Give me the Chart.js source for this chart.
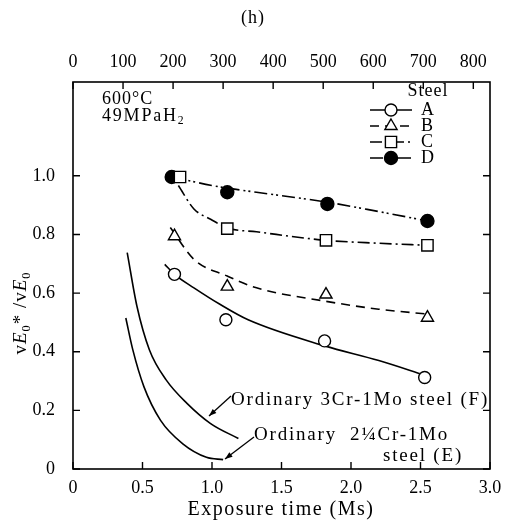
<!DOCTYPE html>
<html>
<head>
<meta charset="utf-8">
<script src="https://cdn.jsdelivr.net/npm/chart.js@4.4.1/dist/chart.umd.min.js"></script>
<style>
  html, body { margin: 0; padding: 0; background: #fff; }
</style>
</head>
<body>
<canvas id="chart" width="505" height="525"></canvas>
<script>
// tick labels
const msTicks = [0, 0.5, 1.0, 1.5, 2.0, 2.5, 3.0];
const hourTicks = [0, 100, 200, 300, 400, 500, 600, 700, 800];
const yTicks = [0, 0.2, 0.4, 0.6, 0.8, 1.0];

// measured points, exposure time (Ms) vs vE0*/vE0
const steelNames = ['A', 'B', 'C', 'D'];
const timeA = [0.73, 1.10, 1.81, 2.53];
const ratioA = [0.664, 0.509, 0.437, 0.312];
const timeB = [0.73, 1.11, 1.82, 2.55];
const ratioB = [0.794, 0.622, 0.595, 0.516];
const timeC = [0.77, 1.11, 1.82, 2.55];
const ratioC = [0.996, 0.82, 0.78, 0.763];
const timeD = [0.71, 1.11, 1.83, 2.55];
const ratioD = [0.996, 0.944, 0.904, 0.846];

// trend curves
const curveAx = [0.66, 0.73, 0.87, 1.06, 1.26, 1.81, 2.2, 2.53];
const curveAy = [0.698, 0.664, 0.618, 0.561, 0.509, 0.42, 0.37, 0.32];
const curveBx = [0.70, 0.87, 1.11, 1.32, 1.82, 2.2, 2.56];
const curveBy = [0.824, 0.715, 0.658, 0.618, 0.572, 0.545, 0.528];
const curveCx = [0.758, 0.87, 0.99, 1.11, 1.32, 1.82, 2.2, 2.55];
const curveCy = [0.967, 0.887, 0.852, 0.822, 0.809, 0.78, 0.77, 0.763];
const curveDx = [0.71, 1.0, 1.11, 1.32, 1.83, 2.2, 2.55];
const curveDy = [0.996, 0.967, 0.958, 0.944, 0.91, 0.878, 0.846];
// ordinary 3Cr-1Mo steel (F)
const curveFx = [0.39, 0.46, 0.55, 0.67, 0.82, 0.99, 1.19];
const curveFy = [0.738, 0.555, 0.406, 0.304, 0.224, 0.155, 0.104];
// ordinary 2 1/4Cr-1Mo steel (E)
const curveEx = [0.38, 0.43, 0.51, 0.63, 0.79, 0.96, 1.08];
const curveEy = [0.515, 0.407, 0.281, 0.166, 0.086, 0.040, 0.032];

const toXY = (xs, ys) => xs.map((x, i) => ({ x: x, y: ys[i] }));

const DASH_B = [9, 6];
const DASH_C = [12, 4, 2, 4];
const DASH_D = [13, 4, 2, 3, 2, 4];

function markerSet(label, xs, ys, style, radius, fill) {
  return {
    label: label,
    data: toXY(xs, ys),
    showLine: false,
    pointStyle: style,
    pointRadius: radius,
    pointHoverRadius: radius,
    pointBackgroundColor: fill,
    pointBorderColor: '#000',
    pointBorderWidth: 1.4
  };
}

function curveSet(label, xs, ys, dash) {
  return {
    label: label,
    data: toXY(xs, ys),
    borderColor: '#000',
    borderWidth: 1.6,
    borderDash: dash,
    pointRadius: 0,
    cubicInterpolationMode: 'monotone',
    fill: false
  };
}

const SERIF = '"Liberation Serif", "DejaVu Serif", serif';

// draw text made of runs: [text, style]  style: n normal, i italic, s subscript
function drawRuns(ctx, runs, x, y, size, spacing) {
  let cx = x;
  runs.forEach(([t, s]) => {
    let fs = size, dy = 0, italic = '';
    if (s === 'i') italic = 'italic ';
    if (s === 's') { fs = size * 0.65; dy = size * 0.28; }
    ctx.font = italic + fs + 'px ' + SERIF;
    ctx.letterSpacing = spacing + 'px';
    ctx.fillText(t, cx, y + dy);
    cx += ctx.measureText(t).width;
  });
}

function runsWidth(ctx, runs, size, spacing) {
  let w = 0;
  runs.forEach(([t, s]) => {
    let fs = size, italic = '';
    if (s === 'i') italic = 'italic ';
    if (s === 's') fs = size * 0.65;
    ctx.font = italic + fs + 'px ' + SERIF;
    ctx.letterSpacing = spacing + 'px';
    w += ctx.measureText(t).width;
  });
  return w;
}

function drawMarker(ctx, style, x, y) {
  ctx.beginPath();
  if (style === 'circle') ctx.arc(x, y, 6, 0, Math.PI * 2);
  if (style === 'disc') ctx.arc(x, y, 6.5, 0, Math.PI * 2);
  if (style === 'triangle') {
    ctx.moveTo(x, y - 7);
    ctx.lineTo(x + 6.1, y + 3.5);
    ctx.lineTo(x - 6.1, y + 3.5);
    ctx.closePath();
  }
  if (style === 'rect') ctx.rect(x - 5.6, y - 5.6, 11.2, 11.2);
  ctx.fillStyle = style === 'disc' ? '#000' : '#fff';
  ctx.fill();
  ctx.stroke();
}

function arrow(ctx, x1, y1, x2, y2) {
  ctx.beginPath();
  ctx.moveTo(x1, y1);
  ctx.lineTo(x2, y2);
  ctx.stroke();
  const ang = Math.atan2(y2 - y1, x2 - x1);
  ctx.beginPath();
  ctx.moveTo(x2, y2);
  ctx.lineTo(x2 - 8 * Math.cos(ang - 0.35), y2 - 8 * Math.sin(ang - 0.35));
  ctx.lineTo(x2 - 8 * Math.cos(ang + 0.35), y2 - 8 * Math.sin(ang + 0.35));
  ctx.closePath();
  ctx.fill();
}

const overlay = {
  id: 'overlay',
  afterDraw(chart) {
    const { ctx, chartArea: a, scales } = chart;
    ctx.save();
    ctx.strokeStyle = '#000';
    ctx.fillStyle = '#000';

    // frame
    ctx.lineWidth = 1.6;
    ctx.strokeRect(a.left, a.top, a.right - a.left, a.bottom - a.top);

    // inward ticks
    ctx.lineWidth = 1.4;
    ctx.beginPath();
    msTicks.forEach(v => {
      const px = scales.x.getPixelForValue(v);
      ctx.moveTo(px, a.bottom); ctx.lineTo(px, a.bottom - 7);
    });
    hourTicks.forEach(v => {
      const px = scales.x2.getPixelForValue(v);
      ctx.moveTo(px, a.top); ctx.lineTo(px, a.top + 7);
    });
    yTicks.forEach(v => {
      const py = scales.y.getPixelForValue(v);
      ctx.moveTo(a.left, py); ctx.lineTo(a.left + 7, py);
      ctx.moveTo(a.right, py); ctx.lineTo(a.right - 7, py);
    });
    ctx.stroke();

    ctx.textBaseline = 'middle';
    ctx.textAlign = 'left';
    ctx.fillStyle = '#000';

    // panel tag
    let w = runsWidth(ctx, [['(h)', 'n']], 18, 1);
    drawRuns(ctx, [['(h)', 'n']], 253 - w / 2, 18, 18, 1);

    // conditions
    drawRuns(ctx, [['600°C', 'n']], 102, 99, 18, 1);
    drawRuns(ctx, [['49MPaH', 'n'], ['2', 's']], 102, 116, 18, 1.8);

    // legend
    w = runsWidth(ctx, [['Steel', 'n']], 18, 1);
    drawRuns(ctx, [['Steel', 'n']], 428 - w / 2, 91, 18, 1);
    const legendStyles = [
      ['circle', []], ['triangle', DASH_B], ['rect', DASH_C], ['disc', DASH_D]
    ];
    steelNames.forEach((name, i) => {
      const ly = 110 + i * 16;
      ctx.lineWidth = 1.6;
      ctx.setLineDash(legendStyles[i][1]);
      ctx.beginPath();
      ctx.moveTo(370, ly); ctx.lineTo(412, ly);
      ctx.stroke();
      ctx.setLineDash([]);
      ctx.lineWidth = 1.4;
      drawMarker(ctx, legendStyles[i][0], 391, ly);
      ctx.fillStyle = '#000';
      drawRuns(ctx, [[name, 'n']], 421, ly, 18, 0);
    });

    // curve notes
    ctx.lineWidth = 1.3;
    drawRuns(ctx, [['Ordinary 3Cr-1Mo steel (F)', 'n']], 231, 400, 19, 1.8);
    arrow(ctx, 231, 396, 209, 416);
    drawRuns(ctx, [['Ordinary  2¼Cr-1Mo', 'n']], 254, 435, 19, 1.8);
    drawRuns(ctx, [['steel (E)', 'n']], 383, 456, 19, 1.8);
    arrow(ctx, 254, 437, 225, 459);

    // axis titles
    w = runsWidth(ctx, [['Exposure time (Ms)', 'n']], 20, 1.5);
    drawRuns(ctx, [['Exposure time (Ms)', 'n']], 281 - w / 2, 510, 20, 1.5);

    const yRuns = [['v', 'n'], ['E', 'i'], ['0', 's'], ['*', 'n'], [' /', 'n'], ['v', 'n'], ['E', 'i'], ['0', 's']];
    ctx.save();
    ctx.translate(21, 313);
    ctx.rotate(-Math.PI / 2);
    w = runsWidth(ctx, yRuns, 19, 1);
    drawRuns(ctx, yRuns, -w / 2, 0, 19, 1);
    ctx.restore();

    ctx.restore();
  }
};

const tickFont = { family: SERIF, size: 18 };

new Chart(document.getElementById('chart'), {
  type: 'line',
  data: {
    datasets: [
      markerSet('A', timeA, ratioA, 'circle', 6, '#fff'),
      markerSet('B', timeB, ratioB, 'triangle', 7, '#fff'),
      markerSet('C', timeC, ratioC, 'rect', 8, '#fff'),
      markerSet('D', timeD, ratioD, 'circle', 6.5, '#000'),
      curveSet('A fit', curveAx, curveAy, []),
      curveSet('B fit', curveBx, curveBy, DASH_B),
      curveSet('C fit', curveCx, curveCy, DASH_C),
      curveSet('D fit', curveDx, curveDy, DASH_D),
      curveSet('F', curveFx, curveFy, []),
      curveSet('E', curveEx, curveEy, [])
    ]
  },
  options: {
    responsive: false,
    animation: false,
    events: [],
    layout: { padding: 0 },
    plugins: {
      legend: { display: false },
      tooltip: { enabled: false }
    },
    scales: {
      x: {
        type: 'linear',
        position: 'bottom',
        min: 0,
        max: 3,
        grid: { display: false },
        border: { display: false },
        afterBuildTicks: s => { s.ticks = msTicks.map(v => ({ value: v })); },
        afterFit: s => { s.height = 56; },
        ticks: {
          color: '#000',
          font: tickFont,
          padding: 0,
          maxRotation: 0,
          callback: v => (v === 0 ? '0' : v.toFixed(1))
        }
      },
      x2: {
        type: 'linear',
        position: 'top',
        min: 0,
        max: 3000 / 3.6,
        grid: { display: false },
        border: { display: false },
        afterBuildTicks: s => { s.ticks = hourTicks.map(v => ({ value: v })); },
        afterFit: s => { s.height = 82; },
        ticks: {
          color: '#000',
          font: tickFont,
          padding: 1,
          maxRotation: 0,
          callback: v => String(v)
        }
      },
      y: {
        type: 'linear',
        position: 'left',
        min: 0,
        max: 1.32,
        grid: { display: false },
        border: { display: false },
        afterBuildTicks: s => { s.ticks = yTicks.map(v => ({ value: v })); },
        afterFit: s => { s.width = 73; },
        ticks: {
          color: '#000',
          font: tickFont,
          padding: 10,
          callback: v => (v === 0 ? '0' : v.toFixed(1))
        }
      },
      y2: {
        type: 'linear',
        position: 'right',
        min: 0,
        max: 1.32,
        grid: { display: false },
        border: { display: false },
        afterFit: s => { s.width = 15; },
        ticks: { display: false }
      }
    }
  },
  plugins: [overlay]
});
</script>
</body>
</html>
